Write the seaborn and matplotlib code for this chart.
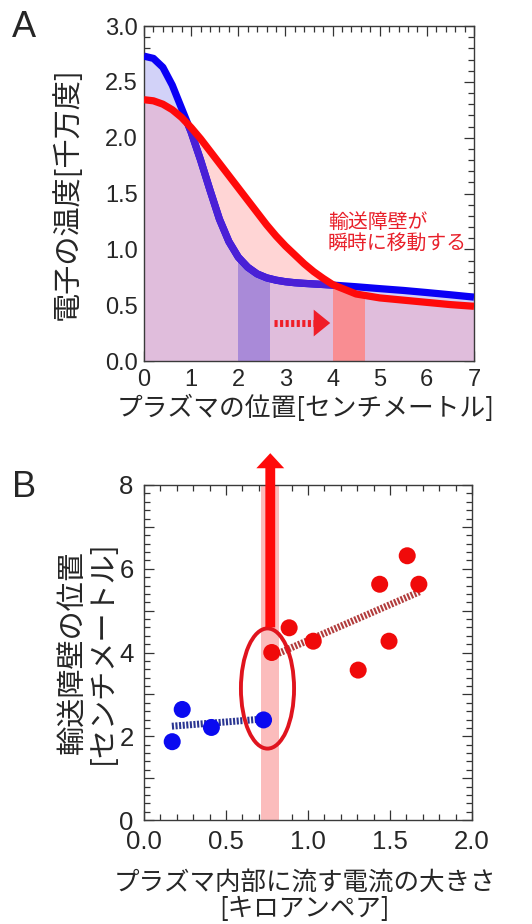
import numpy as np
import matplotlib
matplotlib.use("Agg")
import matplotlib.pyplot as plt
import seaborn as sns
from matplotlib.patches import Ellipse
from matplotlib.ticker import MultipleLocator, FuncFormatter

# ---------------- data: panel A ----------------
position = [0.0, 0.2, 0.4, 0.6, 0.8, 1.0, 1.2, 1.4, 1.6, 1.8, 2.0, 2.2, 2.4, 2.6,
            2.8, 3.0, 3.2, 3.4, 3.6, 3.8, 4.0, 4.5, 5.0, 5.5, 6.0, 6.5, 7.0]
temp_before = [2.73, 2.71, 2.63, 2.47, 2.26, 2.05, 1.80, 1.53, 1.27, 1.07, 0.93, 0.84,
               0.78, 0.745, 0.724, 0.710, 0.701, 0.695, 0.690, 0.685, 0.680, 0.665,
               0.648, 0.632, 0.613, 0.593, 0.572]
temp_after = [2.34, 2.33, 2.30, 2.25, 2.18, 2.09, 1.99, 1.88, 1.77, 1.66, 1.55, 1.44,
              1.33, 1.22, 1.12, 1.03, 0.95, 0.87, 0.80, 0.74, 0.685, 0.600,
              0.565, 0.545, 0.525, 0.505, 0.490]
barrier_before = [2.0, 2.68]
barrier_after = [4.0, 4.68]
shift_arrow_x = [2.76, 3.62, 3.95]
shift_arrow_y = 0.34
note_text = "輸送障壁が\n瞬時に移動する"

# ---------------- data: panel B ----------------
current_blue = [0.172, 0.233, 0.411, 0.729]
barrier_blue = [1.87, 2.64, 2.21, 2.39]
current_red = [0.779, 0.885, 1.032, 1.306, 1.437, 1.494, 1.605, 1.676]
barrier_red = [4.00, 4.59, 4.27, 3.58, 5.63, 4.27, 6.31, 5.63]
fit_blue_x = [0.17, 0.69]
fit_blue_y = [2.24, 2.40]
fit_red_x = [0.82, 1.68]
fit_red_y = [3.98, 5.45]
jump_band = [0.715, 0.826]
jump_arrow = [0.77, 4.6, 8.76]
ellipse_center = (0.753, 3.14)
ellipse_size = (0.324, 2.87)

# ---------------- style ----------------
sns.set_theme(style="ticks")
plt.rcParams["font.family"] = ["Liberation Sans", "Noto Sans CJK JP", "DejaVu Sans"]
CJK = ["Noto Sans CJK JP", "DejaVu Sans"]
plt.rcParams["axes.edgecolor"] = "#3a3a3a"
plt.rcParams["axes.linewidth"] = 1.0

fig = plt.figure(figsize=(5.32, 9.24), dpi=100)
W, H = 532, 924
axA = fig.add_axes([144 / W, 1 - 361 / H, 330 / W, 335 / H])
axB = fig.add_axes([144 / W, 1 - 820 / H, 328 / W, 335 / H])

BLUE = "#0a00f5"
VIOLET = "#4a20d6"
RED = "#ff0a0a"
OVERLAP = "#e0bddc"
PINK = "#ffd5d5"
LIGHTBLUE = "#d2d2f8"
PURPLE_BAND = "#a98ad8"
RED_BAND = "#f98d92"

x = np.array(position)
b = np.array(temp_before)
r = np.array(temp_after)

# fills
axA.fill_between(x, 0, np.minimum(b, r), color=OVERLAP, lw=0, zorder=1)
axA.fill_between(x, b, r, where=r >= b, interpolate=True, color=PINK, lw=0, zorder=1)
axA.fill_between(x, r, b, where=b > r, interpolate=True, color=LIGHTBLUE, lw=0, zorder=1)
under_blue = axA.fill_between(x, 0, b, facecolor="none", edgecolor="none", zorder=0)
under_red = axA.fill_between(x, 0, r, facecolor="none", edgecolor="none", zorder=0)

band1 = axA.axvspan(barrier_before[0], barrier_before[1], color=PURPLE_BAND, lw=0, zorder=2)
band1.set_clip_path(under_blue.get_paths()[0], axA.transData)
band2 = axA.axvspan(barrier_after[0], barrier_after[1], color=RED_BAND, lw=0, zorder=2)
band2.set_clip_path(under_red.get_paths()[0], axA.transData)

# curves
sns.lineplot(x=position, y=temp_before, ax=axA, color=BLUE, lw=5.2, zorder=3,
             estimator=None, sort=False)
sns.lineplot(x=position, y=temp_before, ax=axA, color=VIOLET, lw=5.2, zorder=3.5,
             estimator=None, sort=False)
axA.lines[-1].set_clip_path(under_red.get_paths()[0], axA.transData)
sns.lineplot(x=position, y=temp_after, ax=axA, color=RED, lw=5.2, zorder=4,
             estimator=None, sort=False)
for ln in axA.lines:
    ln.set_solid_capstyle("butt")
    ln.set_solid_joinstyle("round")

# dotted shift arrow
axA.plot(shift_arrow_x[:2], [shift_arrow_y] * 2, color="#f01e28", lw=5,
         dashes=(0.45, 0.35), dash_capstyle="butt", zorder=5)
axA.arrow(shift_arrow_x[1] - 0.02, shift_arrow_y, shift_arrow_x[2] - shift_arrow_x[1] + 0.02, 0,
          width=0.0, head_width=0.24, head_length=0.35, length_includes_head=True,
          color="#f01e28", lw=0, zorder=5)

axA.text(3.9, 1.145, note_text, color="#e8202a", fontsize=14.3, family=CJK,
         ha="left", va="center", linespacing=0.98, zorder=6)

axA.set_xlim(0, 7)
axA.set_ylim(0, 3)
axA.xaxis.set_major_locator(MultipleLocator(1))
axA.xaxis.set_minor_locator(MultipleLocator(0.2))
axA.yaxis.set_major_locator(MultipleLocator(0.5))
axA.yaxis.set_minor_locator(MultipleLocator(0.1))
axA.xaxis.set_major_formatter(FuncFormatter(lambda v, p: f"{v:.0f}"))
axA.yaxis.set_major_formatter(FuncFormatter(lambda v, p: f"{v:.1f}"))
axA.tick_params(which="both", direction="in", top=True, right=True, color="#333333",
                width=0.9, labelsize=17)
axA.tick_params(which="major", length=7)
axA.tick_params(which="minor", length=4)
axA.tick_params(axis="x", pad=5.5)
axA.tick_params(axis="y", pad=4.3)

axA.set_xlabel("プラズマの位置[センチメートル]", fontsize=18.5, family=CJK)
axA.xaxis.set_label_coords(0.49, -0.14)
axA.xaxis.label.set_va("center")
axA.set_ylabel("電子の温度[千万度]", fontsize=21, family=CJK)
axA.yaxis.set_label_coords(-0.23, 0.5)
axA.yaxis.label.set_va("center")

# ---------------- panel B ----------------
axB.axvspan(jump_band[0], jump_band[1], color="#fbbcbc", lw=0, zorder=1)
axB.plot(fit_blue_x, fit_blue_y, color="#2a3592", lw=5, dashes=(0.3, 0.22),
         dash_capstyle="butt", zorder=2)
axB.plot(fit_red_x, fit_red_y, color="#b23c3c", lw=5, dashes=(0.3, 0.22),
         dash_capstyle="butt", zorder=2)
axB.add_patch(Ellipse(ellipse_center, ellipse_size[0], ellipse_size[1], fill=False,
                      ec="#e0141e", lw=2.8, zorder=3))
sns.scatterplot(x=current_blue, y=barrier_blue, ax=axB, color="#0a0af0", s=150,
                edgecolor="none", zorder=4)
sns.scatterplot(x=current_red, y=barrier_red, ax=axB, color="#f00a0a", s=150,
                edgecolor="none", zorder=4)
axB.arrow(jump_arrow[0], jump_arrow[1], 0, jump_arrow[2] - jump_arrow[1], width=0.06,
          head_width=0.17, head_length=0.36, length_includes_head=True,
          color=RED, lw=0, clip_on=False, zorder=6)

axB.set_xlim(0, 2)
axB.set_ylim(0, 8)
axB.xaxis.set_major_locator(MultipleLocator(0.5))
axB.xaxis.set_minor_locator(MultipleLocator(0.1))
axB.yaxis.set_major_locator(MultipleLocator(1))
axB.yaxis.set_minor_locator(MultipleLocator(0.2))
axB.xaxis.set_major_formatter(FuncFormatter(lambda v, p: f"{v:.1f}"))
axB.yaxis.set_major_formatter(FuncFormatter(lambda v, p: f"{v:.0f}" if round(v) % 2 == 0 else ""))
axB.tick_params(which="both", direction="in", top=True, right=True, color="#333333",
                width=0.9, labelsize=18.5)
axB.tick_params(which="major", length=7)
axB.tick_params(which="minor", length=4)
axB.tick_params(axis="x", pad=7)
axB.tick_params(axis="y", pad=7.5)

axB.set_xlabel("プラズマ内部に流す電流の大きさ\n[キロアンペア]", fontsize=18.4, family=CJK,
               linespacing=1.05)
axB.xaxis.set_label_coords(0.49, -0.226)
axB.xaxis.label.set_va("center")
axB.set_ylabel("輸送障壁の位置\n[センチメートル]", fontsize=21, family=CJK, linespacing=1.0)
axB.yaxis.set_label_coords(-0.17, 0.5)
axB.yaxis.label.set_va("center")

fig.text(12 / W, 1 - 37 / H, "A", fontsize=26, ha="left", va="baseline")
fig.text(12 / W, 1 - 497 / H, "B", fontsize=26, ha="left", va="baseline")

fig.savefig("out.png", dpi=100)
